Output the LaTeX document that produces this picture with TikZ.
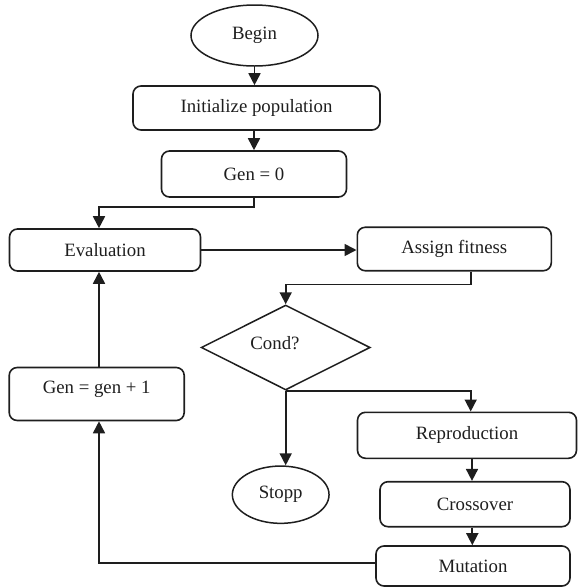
\documentclass[tikz,border=0pt]{standalone}
\usepackage{fontspec}
\setmainfont{Liberation Serif}
\usetikzlibrary{arrows.meta,shapes.geometric}
\definecolor{ink}{RGB}{30,30,30}
\tikzset{
  box/.style={draw=ink, text=ink, rounded corners=8pt, line width=1.6pt, inner sep=0pt, font=\fontsize{18.8}{22}\selectfont},
  oval/.style={draw=ink, text=ink, ellipse, line width=1.5pt, inner sep=0pt, font=\fontsize{18.8}{22}\selectfont},
  dia/.style={draw=ink, diamond, line width=1.5pt, inner sep=0pt},
  lbl/.style={inner sep=0pt, text=ink, font=\fontsize{18.8}{22}\selectfont},
  arr/.style={draw=ink, line width=1.7pt, -{Triangle[length=12pt,width=12pt]}},
}
\begin{document}
\begin{tikzpicture}[x=1pt,y=-1pt]
\useasboundingbox (0,0) rectangle (578,587);
\node[oval, minimum width=127pt, minimum height=61pt] (begin) at (254.5,35.5) {Begin};
\node[box, minimum width=247pt, minimum height=44pt] (init) at (256.5,108) {Initialize population};
\node[box, minimum width=185pt, minimum height=46pt] (gen0) at (254,174) {Gen = 0};
\node[box, minimum width=191pt, minimum height=42pt] (eval) at (105,250) {Evaluation};
\node[box, minimum width=194pt, minimum height=43.5pt] (assign) at (454.3,249) {Assign fitness};
\node[dia, minimum width=169pt, minimum height=85pt] (cond) at (285.7,347.5) {};
\node[lbl] (condt) at (275,343) {Cond?};
\node[oval, minimum width=96.7pt, minimum height=57.3pt] (stopp) at (280.7,494.7) {Stopp};
\node[box, minimum width=175pt, minimum height=53pt, label={[lbl, yshift=5pt]center:Gen = gen + 1}] (gengen) at (96.7,394) {};
\node[box, minimum width=219pt, minimum height=46pt] (repro) at (467,435.3) {Reproduction};
\node[box, minimum width=190pt, minimum height=45pt] (cross) at (475,504.2) {Crossover};
\node[box, minimum width=194pt, minimum height=40pt] (mut) at (473,566) {Mutation};

\draw[arr] (begin.south) -- (begin.south |- init.north);
\draw[arr] (gen0.north |- init.south) -- (gen0.north);
\draw[arr] (gen0.south) -- ++(0,9) -| ([xshift=2.3]gengen.north |- eval.north);
\draw[arr] (eval.east) -- (eval.east -| assign.west);
\draw[arr] ([xshift=16.4]assign.south) -- ++(0,13) -| (cond.north);
\draw[arr] (cond.south) -- (cond.south |- stopp.north);
\draw[arr] (cond.south) -| ([xshift=3.7]repro.north);
\draw[arr] ([xshift=5]repro.south) -- ([xshift=5]repro.south |- cross.north);
\draw[arr] ([xshift=-2.7]cross.south) -- ([xshift=-2.7]cross.south |- mut.north);
\draw[arr] ([yshift=3]mut.west) -| ([xshift=2.3]gengen.south);
\draw[arr] ([xshift=2.3]gengen.north) -- ([xshift=2.3]gengen.north |- eval.south);
\end{tikzpicture}
\end{document}
